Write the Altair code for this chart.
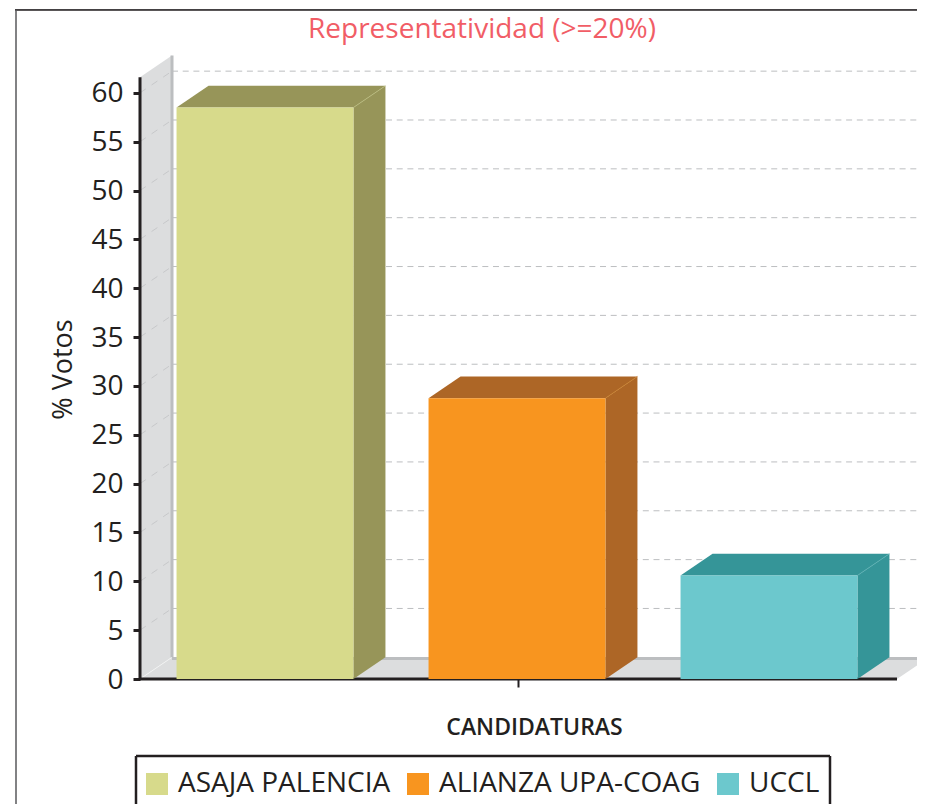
import altair as alt
import pandas as pd

FONT = "Open Sans"
INK = "#231f20"

chart_title = "Representatividad (>=20%)"
candidates = ["ASAJA PALENCIA", "ALIANZA UPA-COAG", "UCCL"]
votes = [58.5, 28.75, 10.6]
front_colors = ["#d7da8b", "#f8951f", "#6cc8cd"]
side_colors = ["#979559", "#ad6626", "#359598"]
edge_colors = ["#b9bb7c", "#c9802c", "#5cb0b2"]
y_ticks = list(range(0, 65, 5))

PLOT_W, PLOT_H = 777, 623
X_MAX = 777 / 252
Y_MAX = 63.77
DX, DY = 0.127, 2.22
WALL_TOP = 61.6
FLOOR_END = 3.004
BAR_L, BAR_R = 0.145, 0.847

xs = alt.Scale(domain=[0, X_MAX], nice=False, zero=False)
ys = alt.Scale(domain=[0, Y_MAX], nice=False, zero=False)
x_axis = alt.Axis(
    values=[1.5], labels=False, domain=False, grid=False, ticks=True, tickSize=8, tickWidth=2,
    tickColor=INK, title="CANDIDATURAS", titleFont=FONT, titleFontWeight=600, titleFontSize=23,
    titleColor=INK, titleX=394, titleY=55, titleAlign="center", titleBaseline="alphabetic")
y_axis = alt.Axis(
    values=y_ticks, domain=False, grid=False, tickSize=7, tickWidth=3, tickColor=INK,
    labelFont=FONT, labelFontSize=28, labelColor=INK, labelPadding=10, labelOffset=1,
    title="% Votos", titleFont=FONT, titleFontWeight="normal", titleFontSize=27, titleColor=INK,
    titleX=-63, titleY=313, titleAlign="center", titleAngle=270)
X = lambda f="x": alt.X(f"{f}:Q", scale=xs, axis=x_axis)
Y = lambda f="y": alt.Y(f"{f}:Q", scale=ys, axis=y_axis, stack=None)


def area(rows, color):
    return alt.Chart(pd.DataFrame(rows, columns=["x", "y", "y2"])).mark_area(
        color=color, interpolate="linear", clip=False
    ).encode(X(), Y(), y2="y2:Q")


def rules(rows, **style):
    return alt.Chart(pd.DataFrame(rows, columns=["x", "x2", "y", "y2"])).mark_rule(**style).encode(
        X(), x2="x2:Q", y=Y(), y2="y2:Q"
    )


def px(x, x2, y, y2, color, width):
    return alt.Chart(pd.DataFrame({"a": [0]})).mark_rule(color=color, strokeWidth=width).encode(
        x=alt.value(x), x2=alt.value(x2), y=alt.value(y), y2=alt.value(y2)
    )


layers = []
# side wall and floor
layers.append(area([[0, 0, WALL_TOP], [DX, DY, WALL_TOP + DY]], "#dcddde"))
layers.append(area([[0, 0, 0], [DX, DY, 0], [FLOOR_END, DY, 0], [FLOOR_END + DX, DY, DY]], "#dcddde"))
layers.append(rules([[0, DX, 0, DY]], color="#f1f2f2", strokeWidth=1))
# back gridlines and wall diagonals
tick_vals = [t for t in y_ticks if t > 0]
layers.append(rules([[DX, X_MAX, t + DY, t + DY] for t in tick_vals],
                    color="#bcbec0", strokeWidth=1, strokeDash=[6, 4.7]))
layers.append(rules([[0, DX, t, t + DY] for t in tick_vals],
                    color="#c7c8ca", strokeWidth=1, strokeDash=[7, 7]))
# back stripes
layers.append(rules([[DX, DX, DY, WALL_TOP + DY]], color="#bcbec0", strokeWidth=3))
layers.append(rules([[DX, X_MAX, DY - 0.12, DY - 0.12]], color="#bcbec0", strokeWidth=3))
# axis lines
layers.append(rules([[0, 0, 0, WALL_TOP]], color=INK, strokeWidth=3))
layers.append(rules([[-0.002, FLOOR_END, 0, 0]], color=INK, strokeWidth=3))

# bars
bars = pd.DataFrame({
    "name": candidates,
    "votes": votes,
    "x": [i + BAR_L for i in range(3)],
    "x2": [i + BAR_R for i in range(3)],
})
for i, v in enumerate(votes):
    l, r = i + BAR_L, i + BAR_R
    layers.append(area([[r, 0, v], [r + DX, DY, v + DY]], side_colors[i]))
    layers.append(area([[l, v, v], [l + DX, v + DY, v], [r, v + DY, v], [r + DX, v + DY, v + DY]], side_colors[i]))
    layers.append(rules([[r, r + DX, v, v + DY]], color=edge_colors[i], strokeWidth=0.8))

front = alt.Chart(bars).mark_rect().encode(
    x=X(),
    x2="x2:Q",
    y=Y("votes"),
    y2=alt.datum(0),
    color=alt.Color("name:N", scale=alt.Scale(domain=candidates, range=front_colors), legend=alt.Legend(
        title=None, orient="none", legendX=3, legendY=714, direction="horizontal",
        symbolType="square", symbolSize=484, symbolStrokeWidth=0, symbolOpacity=1,
        labelFont=FONT, labelFontSize=28, labelColor=INK, labelOffset=7, columnPadding=13,
        padding=0, labelLimit=400)),
)
layers.append(front)

# outer frame and legend box (pixel decoration, relative to plot origin)
layers.append(px(-125, 777, -46.5, -46.5, "#a7a9ac", 1))
layers.append(px(-125, 777, -46, -46, INK, 1.5))
layers.append(px(-124, -124, -46, 750, "#58595b", 1.5))
layers.append(px(-4, 690, 700, 700, INK, 2.5))
layers.append(px(-4, -4, 700, 750, INK, 2.5))
layers.append(px(690, 690, 700, 750, INK, 2.5))

layers.append(alt.Chart(pd.DataFrame({"t": [chart_title]})).mark_text(
    font=FONT, fontSize=28, color="#f15d66", align="center", baseline="middle"
).encode(text="t:N", x=alt.value(342), y=alt.value(-26)))

chart = alt.layer(*layers).properties(
    width=PLOT_W, height=PLOT_H,
    background="#ffffff",
    autosize=alt.AutoSizeParams(type="none"),
    padding={"left": 132, "top": 48, "right": 0, "bottom": 125},
).configure_view(stroke=None)

chart.save("out.html", embed_options={"renderer": "svg", "actions": False})
